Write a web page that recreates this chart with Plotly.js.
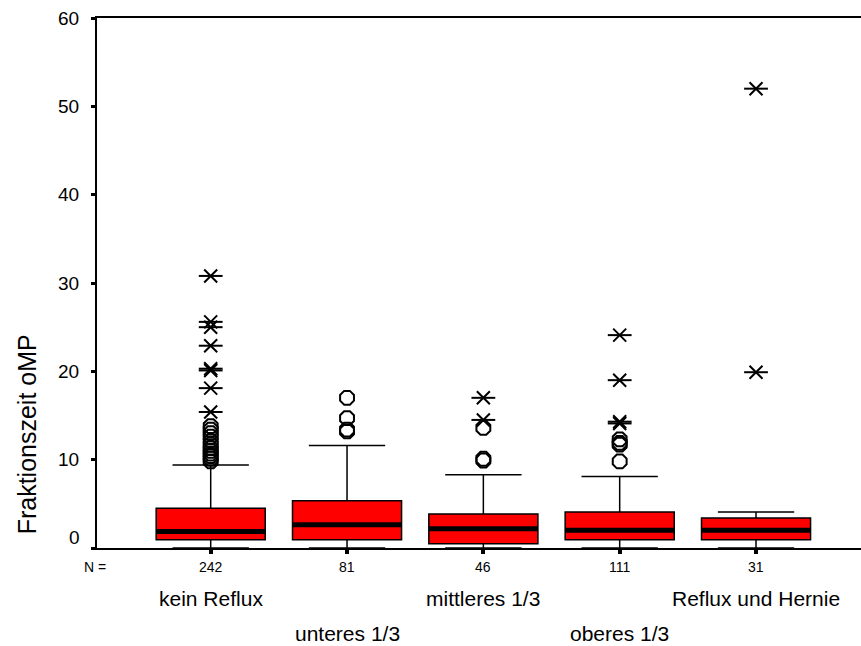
<!DOCTYPE html>
<html>
<head>
<meta charset="utf-8">
<script src="https://cdn.plot.ly/plotly-3.0.1.min.js"></script>
<style>html,body{margin:0;padding:0;background:#fff;}#chart{width:861px;height:646px;}</style>
</head>
<body>
<div id="chart"></div>
<script>
// ---- data ----
const categories = ["kein Reflux", "unteres 1/3", "mittleres 1/3", "oberes 1/3", "Reflux und Hernie"];
const counts = [242, 81, 46, 111, 31];
const q1Values = [0.94, 0.94, 0.49, 0.94, 0.94];
const medianValues = [1.88, 2.64, 2.18, 2.0, 2.0];
const q3Values = [4.5, 5.35, 3.85, 4.07, 3.4];
const lowerWhisker = [0, 0, 0, 0, 0];
const upperWhisker = [9.4, 11.6, 8.3, 8.1, 4.07];
const outliersCircle = [
  [9.8, 10.1, 10.4, 10.7, 11.0, 11.3, 11.7, 12.1, 12.6, 13.0, 13.4, 13.8],
  [13.2, 13.4, 14.7, 17.0],
  [9.9, 10.1, 13.6],
  [9.8, 11.7, 11.9, 12.3],
  []
];
const outliersExtreme = [
  [15.4, 18.1, 20.1, 20.3, 22.9, 25.0, 25.6, 30.8],
  [],
  [14.5, 17.0],
  [14.1, 14.3, 19.0, 24.1],
  [19.9, 52.0]
];
const yTicks = [0, 10, 20, 30, 40, 50, 60];
const yTitle = "Fraktionszeit oMP";

// ---- build ----
const FONT = "Liberation Sans, Arial, Helvetica, sans-serif";
const boxWidth = 0.8;
const traces = [];

traces.push({
  type: "box",
  x: categories,
  q1: q1Values,
  median: medianValues,
  q3: q3Values,
  lowerfence: lowerWhisker,
  upperfence: upperWhisker,
  width: boxWidth,
  fillcolor: "#ff0000",
  line: {color: "#000000", width: 1.5},
  whiskerwidth: 0.7,
  boxpoints: false,
  hoverinfo: "skip",
  showlegend: false
});

// thick median bars, drawn as line traces spanning each box
categories.forEach((c, i) => {
  traces.push({
    type: "scatter", mode: "lines",
    x: [i - boxWidth / 2, i + boxWidth / 2],
    y: [medianValues[i], medianValues[i]],
    xaxis: "x2",
    line: {color: "#000000", width: 5},
    hoverinfo: "skip", showlegend: false
  });
});

const cx = [], cy = [], sx = [], sy = [];
outliersCircle.forEach((arr, i) => arr.forEach(v => { cx.push(categories[i]); cy.push(v); }));
outliersExtreme.forEach((arr, i) => arr.forEach(v => { sx.push(categories[i]); sy.push(v); }));

traces.push({
  type: "scatter", mode: "markers", x: cx, y: cy,
  marker: {symbol: "octagon-open", size: 15, color: "#000000", line: {color: "#000000", width: 2}},
  hoverinfo: "skip", showlegend: false
});
traces.push({
  type: "scatter", mode: "markers", x: sx, y: sy,
  marker: {symbol: "x-thin-open", size: 13, color: "#000000", line: {color: "#000000", width: 2}},
  hoverinfo: "skip", showlegend: false
});
traces.push({
  type: "scatter", mode: "markers", x: sx, y: sy,
  marker: {symbol: "line-ew-open", size: 17, color: "#000000", line: {color: "#000000", width: 2}},
  hoverinfo: "skip", showlegend: false
});

const xRange = [-0.834, 4.77];
const annotations = [];
annotations.push({xref: "paper", yref: "paper", x: -0.003, y: -0.035, text: "N =", showarrow: false,
  xanchor: "center", yanchor: "middle", font: {family: FONT, size: 14, color: "#000"}});
categories.forEach((c, i) => {
  annotations.push({xref: "x", yref: "paper", x: c, y: -0.035, text: String(counts[i]), showarrow: false,
    xanchor: "center", yanchor: "middle", font: {family: FONT, size: 14, color: "#000"}});
  annotations.push({xref: "x", yref: "paper", x: c, y: (i % 2 === 0) ? -0.0957 : -0.1617, text: c, showarrow: false,
    xanchor: "center", yanchor: "middle", font: {family: FONT, size: 21, color: "#000"}});
});
annotations.push({xref: "paper", yref: "y", x: -0.0196, y: 1.2, text: "0", showarrow: false,
  xanchor: "right", yanchor: "middle", font: {family: FONT, size: 19, color: "#000"}});
annotations.push({xref: "paper", yref: "paper", x: -0.0912, y: 0.215, text: yTitle, showarrow: false,
  textangle: -90, xanchor: "center", yanchor: "middle", font: {family: FONT, size: 25, color: "#000"}});

const layout = {
  width: 861, height: 646,
  margin: {l: 97, r: 0, t: 18, b: 98, pad: 0},
  paper_bgcolor: "#ffffff", plot_bgcolor: "#ffffff",
  font: {family: FONT, color: "#000"},
  boxgap: 0.2, boxgroupgap: 0,
  showlegend: false,
  xaxis: {
    type: "category", range: xRange, showgrid: false, zeroline: false,
    showline: true, linecolor: "#000", linewidth: 2, mirror: true,
    ticks: "outside", ticklen: 4, tickwidth: 4, tickcolor: "#000",
    showticklabels: false
  },
  xaxis2: {
    overlaying: "x", range: xRange, visible: false, showgrid: false, zeroline: false
  },
  yaxis: {
    range: [0, 60], showgrid: false, zeroline: false,
    showline: true, linecolor: "#000", linewidth: 2,
    ticks: "outside", ticklen: 4, tickwidth: 3, tickcolor: "#000",
    tickvals: yTicks, ticktext: yTicks.map(v => v === 0 ? "" : String(v)),
    tickfont: {family: FONT, size: 19, color: "#000"},
    ticklabelstandoff: 8
  },
  annotations: annotations
};

Plotly.newPlot("chart", traces, layout, {staticPlot: true, displayModeBar: false});
</script>
</body>
</html>
